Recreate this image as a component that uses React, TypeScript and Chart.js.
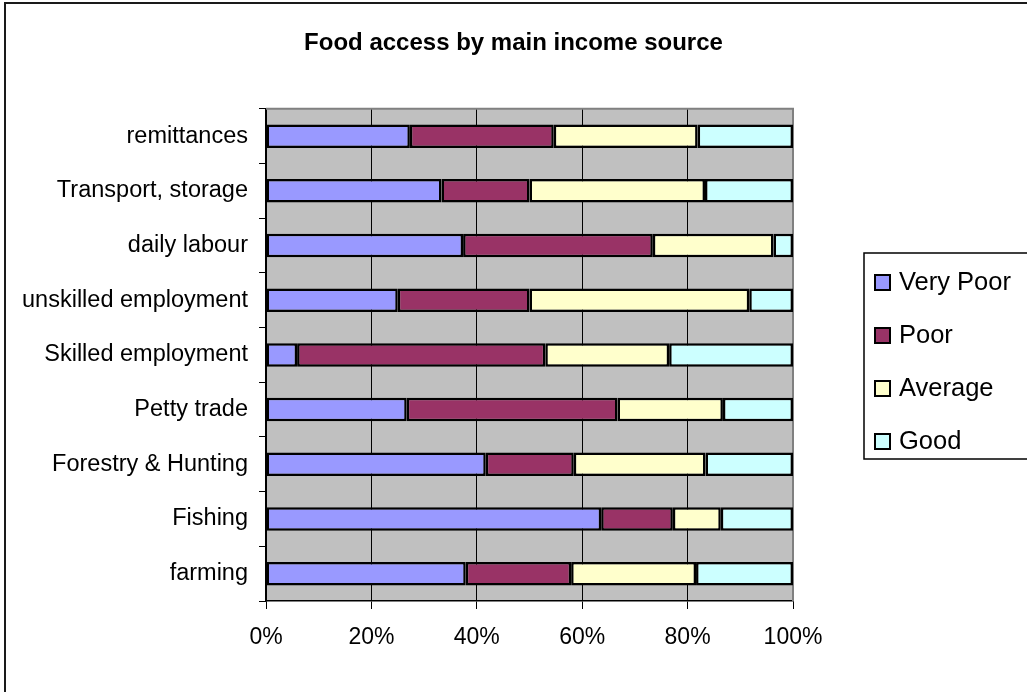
import React, { useEffect, useRef } from "react";
import { Chart, registerables } from "chart.js";

Chart.register(...registerables);

const categories = [
  "remittances",
  "Transport, storage",
  "daily labour",
  "unskilled employment",
  "Skilled employment",
  "Petty trade",
  "Forestry & Hunting",
  "Fishing",
  "farming",
];

const seriesNames = ["Very Poor", "Poor", "Average", "Good"];
const veryPoor = [27.3, 33.3, 37.4, 25.0, 5.9, 26.7, 41.7, 63.6, 37.9];
const poor = [27.3, 16.7, 36.0, 25.0, 47.1, 40.0, 16.7, 13.6, 20.0];
const average = [27.3, 33.3, 22.9, 41.7, 23.5, 20.0, 25.0, 9.1, 23.7];
const good = [18.1, 16.7, 3.7, 8.3, 23.5, 13.3, 16.6, 13.7, 18.4];
const seriesColors = ["#9999FF", "#993366", "#FFFFCC", "#CCFFFF"];
const xTickValues = [0, 20, 40, 60, 80, 100];

const FONT = "'Liberation Sans', Arial, sans-serif";

const decorPlugin = {
  id: "decor",
  beforeDraw(chart: any) {
    const { ctx, chartArea } = chart;
    ctx.save();
    ctx.fillStyle = "#FFFFFF";
    ctx.fillRect(0, 0, chart.width, chart.height);
    ctx.fillStyle = "#C0C0C0";
    ctx.fillRect(chartArea.left, chartArea.top, chartArea.right - chartArea.left, chartArea.bottom - chartArea.top);
    // outer border
    ctx.strokeStyle = "#1a1a1a";
    ctx.lineWidth = 2;
    ctx.strokeRect(5, 3, 1200, 900);
    ctx.restore();
  },
  beforeDatasetsDraw(chart: any) {
    const { ctx, chartArea } = chart;
    ctx.save();
    ctx.strokeStyle = "#808080";
    ctx.lineWidth = 2;
    ctx.beginPath();
    ctx.moveTo(chartArea.left, chartArea.top);
    ctx.lineTo(chartArea.right, chartArea.top);
    ctx.lineTo(chartArea.right, chartArea.bottom);
    ctx.stroke();
    ctx.restore();
  },
  afterDraw(chart: any) {
    const { ctx } = chart;
    ctx.save();
    // legend box
    ctx.strokeStyle = "#000000";
    ctx.lineWidth = 1.5;
    ctx.strokeRect(864, 253, 300, 206);
    const rowY = [282, 335, 388, 441];
    chart.data.datasets.forEach((ds: any, i: number) => {
      const cy = rowY[i];
      ctx.fillStyle = ds.backgroundColor;
      ctx.fillRect(875, cy - 7, 15, 15);
      ctx.strokeStyle = "#000000";
      ctx.lineWidth = 2;
      ctx.strokeRect(875, cy - 7, 15, 15);
      ctx.fillStyle = "#000000";
      ctx.font = `25.5px ${FONT}`;
      ctx.textBaseline = "middle";
      ctx.textAlign = "left";
      ctx.fillText(ds.label, 899, cy + 1);
    });
    ctx.restore();
  },
};

export default function App() {
  const ref = useRef<HTMLCanvasElement | null>(null);
  useEffect(() => {
    if (!ref.current) return;
    const seriesData = [veryPoor, poor, average, good];
    const chart = new Chart(ref.current, {
      type: "bar",
      data: {
        labels: categories,
        datasets: seriesNames.map((name, i) => ({
          label: name,
          data: seriesData[i],
          backgroundColor: seriesColors[i],
          borderColor: "#000000",
          borderWidth: 2.5,
          borderSkipped: false,
          barPercentage: 0.43,
          categoryPercentage: 1,
        })),
      },
      options: {
        indexAxis: "y",
        responsive: false,
        animation: false,
        devicePixelRatio: 1,
        layout: { padding: { left: 0, right: 0, top: 0, bottom: 0 } },
        plugins: {
          legend: { display: false },
          tooltip: { enabled: false },
          title: {
            display: true,
            text: "Food access by main income source",
            color: "#000000",
            font: { family: FONT, size: 24, weight: "bold" },
            padding: { top: 29, bottom: 51 },
          },
        },
        scales: {
          x: {
            type: "linear",
            stacked: true,
            min: 0,
            max: 100,
            afterBuildTicks: (scale: any) => {
              scale.ticks = xTickValues.map((v) => ({ value: v }));
            },
            afterFit: (scale: any) => {
              scale.height = 91;
            },
            grid: {
              color: "#000000",
              lineWidth: 1,
              tickLength: 8,
              drawTicks: true,
            },
            border: { color: "#000000", width: 1.5 },
            ticks: {
              color: "#000000",
              font: { family: FONT, size: 23 },
              padding: 15,
              callback: (v: any) => `${v}%`,
            },
          },
          y: {
            type: "category",
            stacked: true,
            afterFit: (scale: any) => {
              scale.width = 266;
            },
            grid: {
              drawOnChartArea: false,
              drawTicks: true,
              tickLength: 7,
              color: "#000000",
              offset: true,
            },
            border: { color: "#000000", width: 1.5 },
            ticks: {
              color: "#000000",
              font: { family: FONT, size: 23.5 },
              padding: 11,
            },
          },
          yRight: {
            type: "category",
            position: "right",
            display: true,
            afterFit: (scale: any) => {
              scale.width = 234;
            },
            grid: { display: false, drawTicks: false },
            border: { display: false },
            ticks: { display: false },
          },
        },
      },
      plugins: [decorPlugin],
    });
    return () => chart.destroy();
  }, []);
  return (
    <div style={{ position: "absolute", left: 0, top: 0, width: 1027, height: 692 }}>
      <canvas ref={ref} width={1027} height={692} style={{ display: "block" }} />
    </div>
  );
}
